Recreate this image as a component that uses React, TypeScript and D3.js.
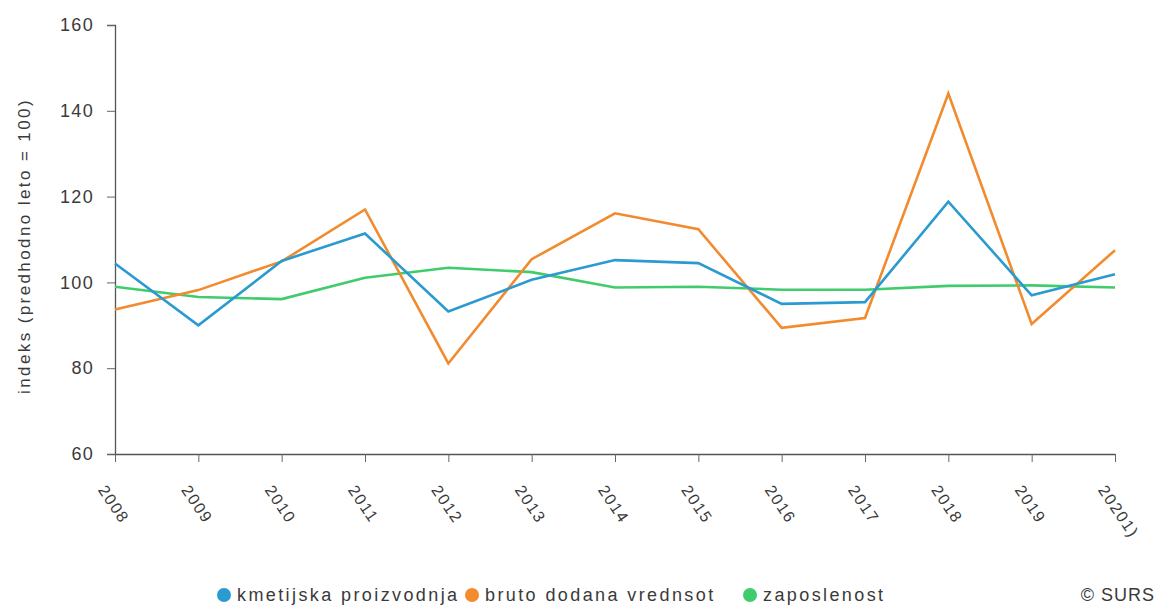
import React, { useEffect, useRef } from 'react'
import * as d3 from 'd3'

const years = ['2008', '2009', '2010', '2011', '2012', '2013', '2014', '2015', '2016', '2017', '2018', '2019', '20201)']
const kmetijska = [104.4, 90, 105, 111.4, 93.2, 100.6, 105.2, 104.5, 95, 95.4, 118.8, 97, 101.9]
const bruto = [93.7, 98.2, 104.9, 117, 81.1, 105.4, 116.1, 112.4, 89.4, 91.7, 144, 90.3, 107.5]
const zaposlenost = [99, 96.6, 96.1, 101.1, 103.4, 102.4, 98.8, 99, 98.3, 98.3, 99.2, 99.3, 98.8]
const yTicks = [60, 80, 100, 120, 140, 160]

const seriesNames = ['kmetijska proizvodnja', 'bruto dodana vrednsot', 'zaposlenost']
const colors = ['#2a9ad0', '#f28a2e', '#40cc6c']
const font = 'Liberation Sans, Arial, sans-serif'

const App = () => {
  const ref = useRef<SVGSVGElement>(null)

  useEffect(() => {
    if (!ref.current) return
    const svg = d3.select(ref.current)
    svg.selectAll('*').remove()

    const margin = { top: 25, left: 115 }
    const plotW = 1000
    const plotH = 429

    const x = d3.scalePoint().domain(years).range([0, plotW])
    const y = d3.scaleLinear().domain([60, 160]).range([plotH, 0])

    const g = svg.append('g').attr('transform', `translate(${margin.left},${margin.top})`)

    // y axis
    const yAxis = g.append('g').call(d3.axisLeft(y).tickValues(yTicks).tickSize(8).tickPadding(13))
    yAxis.select('.domain').attr('stroke', '#555').attr('stroke-width', 1.3)
    yAxis.selectAll('.tick line').attr('stroke', '#666')
    yAxis.selectAll('text')
      .attr('fill', '#3a3a3a')
      .style('font-size', '18px')
      .style('letter-spacing', '1.3px')
      .style('font-family', font)

    // x axis
    const xAxis = g.append('g')
      .attr('transform', `translate(0,${plotH})`)
      .call(d3.axisBottom(x).tickSize(8).tickSizeOuter(0))
    xAxis.select('.domain').attr('stroke', '#555').attr('stroke-width', 1.3)
    xAxis.selectAll('.tick line').attr('stroke', '#666')
    xAxis.selectAll('text')
      .attr('fill', '#3a3a3a')
      .attr('y', 0)
      .attr('dy', 0)
      .attr('transform', 'translate(-18,36) rotate(56)')
      .style('text-anchor', 'start')
      .style('font-size', '16px')
      .style('letter-spacing', '1.6px')
      .style('font-family', font)

    // y label
    g.append('text')
      .attr('transform', `translate(-85,221) rotate(-90)`)
      .attr('text-anchor', 'middle')
      .attr('fill', '#3a3a3a')
      .style('font-size', '17px')
      .style('letter-spacing', '2.4px')
      .style('font-family', font)
      .text('indeks (predhodno leto = 100)')

    // lines
    const line = d3.line<number>()
      .x((_, i) => x(years[i]) as number)
      .y(d => y(d))

    const order = [2, 1, 0]
    const data = [kmetijska, bruto, zaposlenost]
    order.forEach((idx) => {
      g.append('path')
        .datum(data[idx])
        .attr('fill', 'none')
        .attr('stroke', colors[idx])
        .attr('stroke-width', 2.6)
        .attr('d', line)
    })

    // legend
    const legendX = [224, 472, 750]
    const leg = svg.append('g').attr('transform', 'translate(0,595)')
    seriesNames.forEach((name, i) => {
      leg.append('circle').attr('cx', legendX[i]).attr('cy', 0).attr('r', 7).attr('fill', colors[i])
      leg.append('text')
        .attr('x', legendX[i] + 13)
        .attr('y', 6)
        .attr('fill', '#3a3a3a')
        .style('font-size', '18px')
        .style('letter-spacing', '2.4px')
        .style('font-family', font)
        .text(name)
    })
    leg.append('text')
      .attr('x', 1155)
      .attr('y', 6)
      .attr('text-anchor', 'end')
      .attr('fill', '#3a3a3a')
      .style('font-size', '18px')
      .style('letter-spacing', '1px')
      .style('font-family', font)
      .text('© SURS')
  }, [])

  return (
    <svg ref={ref} width={1160} height={606}
      style={{ position: 'absolute', left: 0, top: 0, background: '#fff' }} />
  )
}

export default App
